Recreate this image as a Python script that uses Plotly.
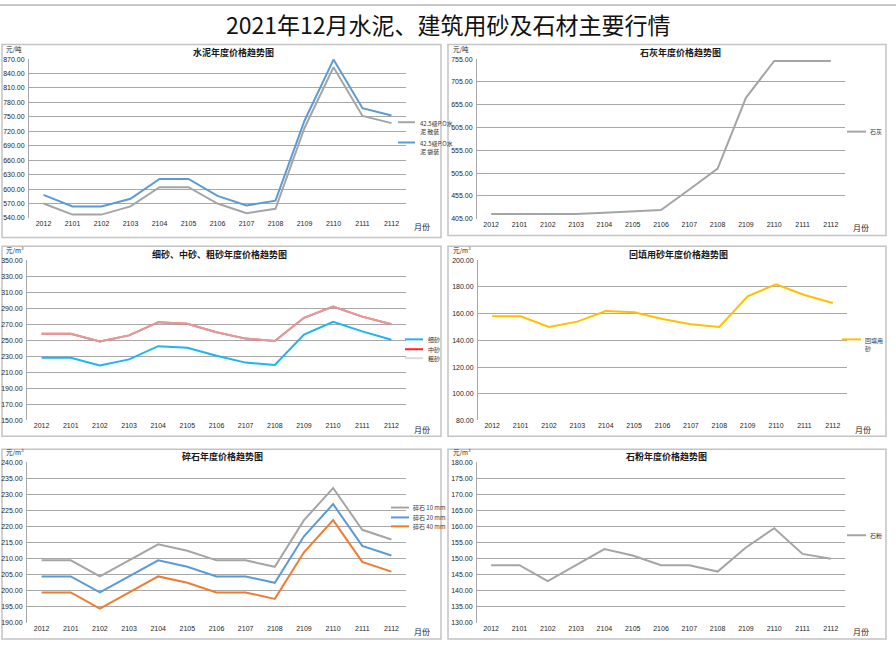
import plotly.graph_objects as go

W, H = 896, 653

months = ["2012", "2101", "2102", "2103", "2104", "2105", "2106", "2107", "2108", "2109", "2110", "2111", "2112"]

# 水泥
cement_bulk = [570, 547, 547, 564, 604, 604, 570, 550, 559, 727, 853, 752, 737]
cement_bag = [588, 564, 564, 580, 621, 621, 586, 566, 576, 742, 869, 768, 753]
# 石灰
lime = [415, 415, 415, 415, 418, 421, 424, 469, 515, 670, 751, 751, 751]
# 砂
fine_sand = [228, 228, 218.5, 226, 242.5, 240.5, 230.5, 222, 219, 257, 273, 261, 250.5]
mid_sand = [258, 258, 248.5, 256, 272.5, 270.5, 260, 252, 249, 278, 292, 279.5, 270]
coarse_sand = [258, 258, 248.5, 256, 272.5, 270.5, 260, 252, 249, 278, 292, 279.5, 270]
# 回填用砂
backfill = [158, 158, 150, 154, 162, 161, 156, 152, 150, 173, 182, 174, 168]
# 碎石
gravel_10 = [209.5, 209.5, 204.5, 209.5, 214.5, 212.5, 209.5, 209.5, 207.5, 222, 232, 219, 216]
gravel_20 = [204.5, 204.5, 199.5, 204.5, 209.5, 207.5, 204.5, 204.5, 202.5, 217, 227, 214, 211]
gravel_40 = [199.5, 199.5, 194.5, 199.5, 204.5, 202.5, 199.5, 199.5, 197.5, 212, 222, 209, 206]
# 石粉
stone_powder = [148, 148, 143, 148, 153, 151, 148, 148, 146, 153.5, 159.5, 151.5, 150]

GRAY = "#a5a5a5"
BLUE = "#5b9bd5"
SKY = "#1cb5ef"
RED = "#ff2020"
LIGHT = "rgba(205,205,205,0.72)"
GOLD = "#ffc000"
ORANGE = "#ed7d31"

def px(x):
    return x / W

def py(y):
    return 1 - y / H

panels = [
    dict(x=(29, 406), y=(55.7, 216.3), yr=(540, 870), dt=30, title="水泥年度价格趋势图", tx=233, ty=49,
         unit="元/吨", box=(2, 41, 441, 236),
         series=[("42.5级P.O水<br>泥 散装", cement_bulk, GRAY), ("42.5级P.O水<br>泥 袋装", cement_bag, BLUE)],
         leg=[(398, 415, 119.5, 418), (398, 415, 140, 418)]),
    dict(x=(477, 845), y=(55.7, 217), yr=(405, 755), dt=50, title="石灰年度价格趋势图", tx=680, ty=49,
         unit="元/吨", box=(448, 41, 886, 234),
         series=[("石灰", lime, GRAY)],
         leg=[(847, 866, 129, 868)]),
    dict(x=(27, 406), y=(259, 420.7), yr=(150, 350), dt=20, title="细砂、中砂、粗砂年度价格趋势图", tx=219, ty=253,
         unit="元/m³", box=(2, 245, 441, 437),
         series=[("细砂", fine_sand, SKY), ("中砂", mid_sand, RED), ("粗砂", coarse_sand, LIGHT)],
         leg=[(405, 423, 339, 426), (405, 423, 349, 426), (405, 423, 358, 426)]),
    dict(x=(478, 847), y=(259, 421), yr=(80, 200), dt=20, title="回填用砂年度价格趋势图", tx=678, ty=253,
         unit="元/m³", box=(448, 245, 886, 437),
         series=[("回填用<br>砂", backfill, GOLD)],
         leg=[(842, 861, 339, 863)]),
    dict(x=(27, 406), y=(463.3, 625.7), yr=(190, 240), dt=5, title="碎石年度价格趋势图", tx=222, ty=457,
         unit="元/m³", box=(2, 450, 441, 642),
         series=[("碎石 10 mm", gravel_10, GRAY), ("碎石 20 mm", gravel_20, BLUE), ("碎石 40 mm", gravel_40, ORANGE)],
         leg=[(391, 409, 509, 411), (391, 409, 519, 411), (391, 409, 528, 411)]),
    dict(x=(477, 845), y=(463.3, 625.7), yr=(130, 180), dt=5, title="石粉年度价格趋势图", tx=666, ty=457,
         unit="元/m³", box=(448, 450, 886, 642),
         series=[("石粉", stone_powder, GRAY)],
         leg=[(847, 866, 537, 868)]),
]

fig = go.Figure()
shapes = []
annotations = []
layout = {}

TICKFONT = dict(family="Liberation Sans", size=7, color="#262626")

for p in panels:
    bx0, by0, bx1, by1 = p["box"]
    shapes.append(dict(type="rect", xref="paper", yref="paper", x0=px(bx0), x1=px(bx1), y0=py(by1), y1=py(by0),
                       line=dict(color="#c4c4c4", width=1.5), fillcolor="white", layer="below"))

for i, p in enumerate(panels, start=1):
    sfx = "" if i == 1 else str(i)
    xa = "x" + sfx
    ya = "y" + sfx
    layout["xaxis" + sfx] = dict(domain=[px(p["x"][0]), px(p["x"][1])], anchor=ya, type="category",
                                 range=[-0.5, 12.5], showgrid=False, zeroline=False, showline=False,
                                 ticks="", tickfont=TICKFONT, fixedrange=True)
    layout["yaxis" + sfx] = dict(domain=[py(p["y"][1]), py(p["y"][0])], anchor=xa, range=list(p["yr"]),
                                 dtick=p["dt"], tick0=p["yr"][0], tickformat=".2f", showgrid=True,
                                 gridcolor="#a8a8a8", gridwidth=1.2, zeroline=False, showline=True,
                                 linecolor="#a8a8a8", linewidth=1, ticks="", tickfont=TICKFONT,
                                 ticklabelstandoff=2, fixedrange=True)
    for name, vals, col in p["series"]:
        fig.add_trace(go.Scatter(x=months, y=vals, mode="lines", name=name, xaxis=xa, yaxis=ya,
                                 line=dict(color=col, width=2), showlegend=False, hoverinfo="x+y"))
    annotations.append(dict(text="<b>" + p["title"] + "</b>", x=px(p["tx"]), y=py(p["ty"]), xref="paper",
                            yref="paper", showarrow=False, xanchor="center", yanchor="middle",
                            font=dict(family="Noto Sans CJK SC", size=9, color="#1a1a1a")))
    ux = 4 if p["x"][0] < 200 else 451
    annotations.append(dict(text=p["unit"], x=px(ux), y=py(p["y"][0] - 3), xref="paper", yref="paper",
                            showarrow=False, xanchor="left", yanchor="bottom",
                            font=dict(family="Noto Sans CJK SC", size=6.5, color="#262626")))
    annotations.append(dict(text="月份", x=px(p["x"][1] + 6), y=py(p["y"][1] + 9), xref="paper", yref="paper",
                            showarrow=False, xanchor="left", yanchor="middle",
                            font=dict(family="Noto Sans CJK SC", size=8, color="#262626")))
    for (name, vals, col), (lx0, lx1, ly, tx) in zip(p["series"], p["leg"]):
        shapes.append(dict(type="line", xref="paper", yref="paper", x0=px(lx0), x1=px(lx1), y0=py(ly), y1=py(ly),
                           line=dict(color=col, width=2)))
        two = "<br>" in name
        annotations.append(dict(text=name, x=px(tx), y=py(ly), xref="paper",
                                yref="paper", showarrow=False, xanchor="left",
                                yanchor="top" if two else "middle", align="left",
                                yshift=5 if two else 0,
                                font=dict(family="Noto Sans CJK SC", size=6, color="#333333")))

annotations.append(dict(text="2021年12月水泥、建筑用砂及石材主要行情", x=px(448), y=py(20), xref="paper", yref="paper",
                        showarrow=False, xanchor="center", yanchor="middle",
                        font=dict(family="Noto Sans CJK SC", size=23, color="#111111")))

shapes.append(dict(type="line", xref="paper", yref="paper", x0=0, x1=1, y0=py(1), y1=py(1),
                   line=dict(color="#c8c8c8", width=2)))

fig.update_layout(width=W, height=H, margin=dict(l=0, r=0, t=0, b=0), paper_bgcolor="white",
                  plot_bgcolor="rgba(0,0,0,0)", shapes=shapes, annotations=annotations, showlegend=False,
                  **layout)

fig.write_html("out.html", config={"displayModeBar": False},
               post_script="document.body.style.margin='0';document.body.style.overflow='hidden';")
